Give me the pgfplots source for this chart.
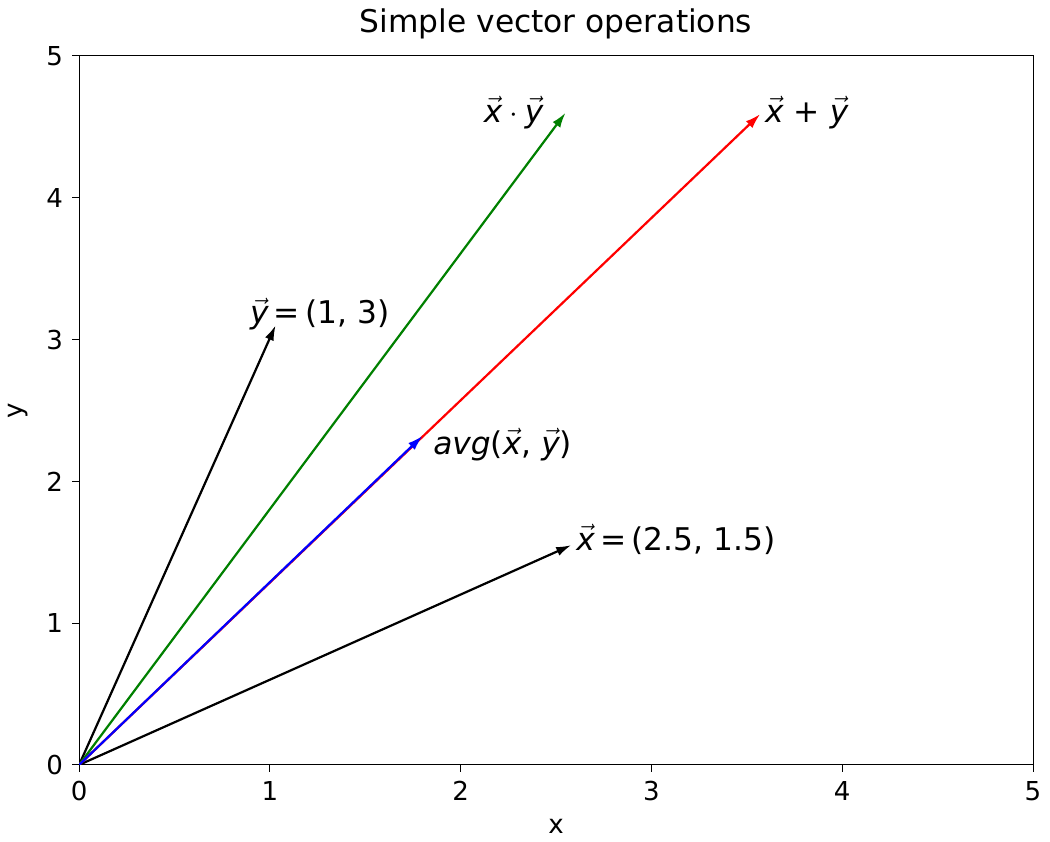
\documentclass[border=0pt]{standalone}
\usepackage{fontspec}
\setmainfont{DejaVu Sans}
\usepackage{pgfplots}
\pgfplotsset{compat=1.18}
\usetikzlibrary{arrows.meta}

\newcommand{\vx}{\vec{\textit{x}}}
\newcommand{\vy}{\vec{\textit{y}}}

\begin{document}
\begin{tikzpicture}
  \begin{axis}[
    width=366pt, height=272pt,
    scale only axis,
    xmin=0, xmax=5, ymin=0, ymax=5,
    xtick={0,1,2,3,4,5}, ytick={0,1,2,3,4,5},
    xtick pos=bottom, ytick pos=left,
    tick align=outside,
    major tick length=2.7pt,
    tick style={black, line width=0.4pt},
    /pgf/number format/assume math mode=true,
    ticklabel style={font=\fontsize{10}{12}\selectfont},
    xlabel={x}, ylabel={y},
    label style={font=\fontsize{10}{12}\selectfont},
    title={Simple vector operations},
    title style={font=\fontsize{12}{14}\selectfont, yshift=-3pt},
    axis line style={line width=0.4pt},
    every axis plot/.append style={line width=0.85pt},
  ]
    % x = (2.5, 1.5)
    \addplot[black, -{Latex[length=5.8pt,width=3.6pt]}] coordinates {(0,0) (2.58,1.55)};
    % y = (1, 3)
    \addplot[black, -{Latex[length=5.8pt,width=3.6pt]}] coordinates {(0,0) (1.03,3.1)};
    % elementwise product
    \addplot[green!50!black, -{Latex[length=5.8pt,width=3.6pt]}] coordinates {(0,0) (2.55,4.6)};
    % sum
    \addplot[red, -{Latex[length=5.8pt,width=3.6pt]}] coordinates {(0,0) (3.57,4.59)};
    % average
    \addplot[blue, -{Latex[length=5.8pt,width=3.6pt]}] coordinates {(0,0) (1.8,2.32)};

    \node[anchor=east, font=\fontsize{12}{14}\selectfont, inner sep=1pt] at (axis cs:2.45,4.6) {$\vx\cdot\vy$};
    \node[anchor=west, font=\fontsize{12}{14}\selectfont, inner sep=1pt] at (axis cs:3.58,4.6) {$\vx$ + $\vy$};
    \node[anchor=west, font=\fontsize{12}{14}\selectfont, inner sep=1pt] at (axis cs:0.88,3.18) {$\vy$\,=\,(1, 3)};
    \node[anchor=west, font=\fontsize{12}{14}\selectfont, inner sep=1pt] at (axis cs:1.84,2.26) {\textit{avg}($\vx$, $\vy$)};
    \node[anchor=west, font=\fontsize{12}{14}\selectfont, inner sep=1pt] at (axis cs:2.59,1.59) {$\vx$\,=\,(2.5, 1.5)};
  \end{axis}
\end{tikzpicture}
\end{document}
